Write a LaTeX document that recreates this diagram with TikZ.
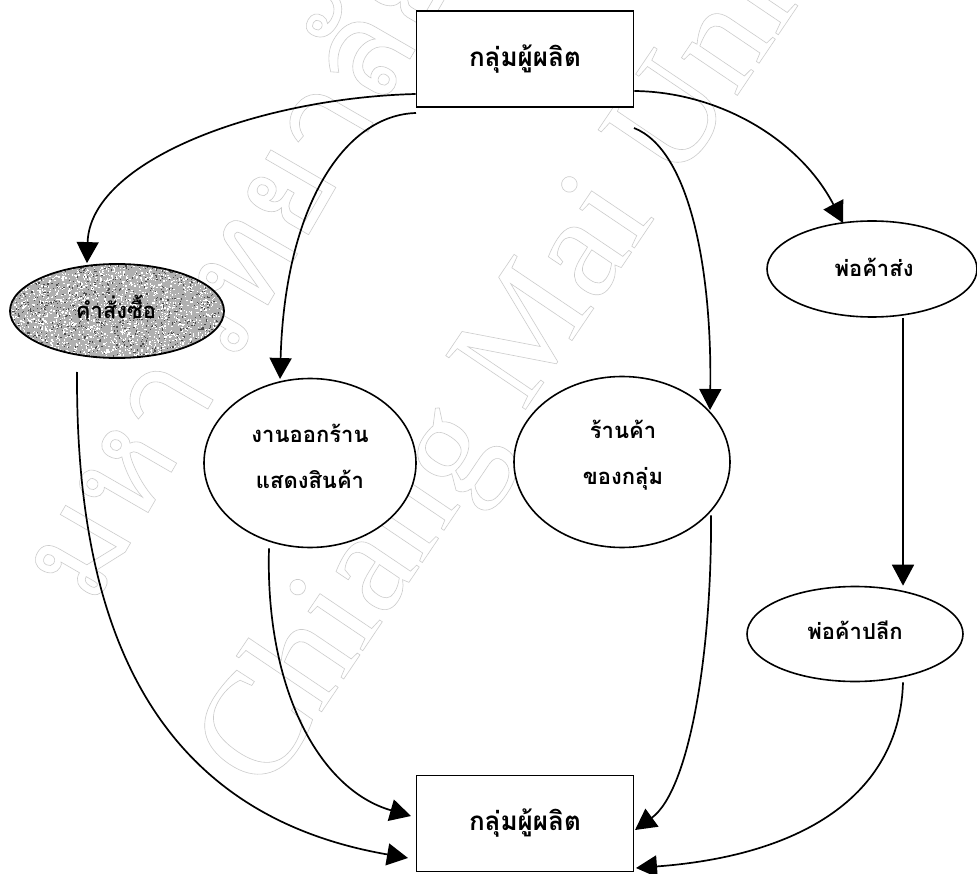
\documentclass[tikz,border=0pt]{standalone}
\usepackage{fontspec}
\usetikzlibrary{shapes.geometric,arrows.meta}
\newfontfamily\thaifont[Script=Thai]{Loma}
\setmainfont{Liberation Serif}
\newcommand{\outlinetext}[1]{\special{pdf:code 1 Tr 0.6 w 0.8 G}#1\special{pdf:code 0 Tr 0 G}}
\tikzset{
  boxnode/.style={draw,line width=1.8pt,fill=white,minimum width=217pt,minimum height=96pt,inner sep=0pt,font=\thaifont\bfseries\fontsize{26}{32}\selectfont},
  oval/.style={ellipse,draw,line width=1.6pt,fill=white,inner sep=0pt,align=center},
  ovaltext/.style={align=center,inner sep=0pt,font=\thaifont\bfseries\fontsize{22}{46}\selectfont},
  flow/.style={line width=1.7pt,-{Triangle[length=21pt,width=22pt]}},
  wmarka/.style={rotate=60,font=\fontsize{135}{135}\selectfont},
  wmarkb/.style={rotate=56,font=\fontsize{147}{147}\selectfont}
}
\begin{document}
\begin{tikzpicture}[x=1pt,y=-1pt]
\useasboundingbox (0,0) rectangle (977,874);
\clip (0,0) rectangle (977,874);
\fill[white] (0,0) rectangle (977,874);
\node[wmarka] (wa) at (356,32) {\thaifont\outlinetext{มหาวิทยาลัยเชียงใหม่}};
\node[wmarkb] (wb) at (615,214) {\outlinetext{Chiang Mai University}};

\node[boxnode] (top) at (525,59) {กลุ่มผู้ผลิต};
\node[boxnode] (bot) at (525,823.5) {กลุ่มผู้ผลิต};
\begin{scope}
\clip (117,311) ellipse [x radius=107,y radius=47];
\fill[gray!62] (9,263) rectangle (225,359);
\pgfmathsetseed{7}
\foreach \i in {1,...,2200}{
  \pgfmathsetmacro{\px}{10+214*rnd}
  \pgfmathsetmacro{\py}{264+94*rnd}
  \fill[white] (\px,\py) rectangle +(1.3,1.3);
}
\foreach \i in {1,...,900}{
  \pgfmathsetmacro{\px}{10+214*rnd}
  \pgfmathsetmacro{\py}{264+94*rnd}
  \fill[black!70] (\px,\py) rectangle +(1.2,1.2);
}
\end{scope}
\node[ellipse,draw,line width=1.8pt,minimum width=214pt,minimum height=94pt,inner sep=0pt] (order) at (117,311) {};
\node[ovaltext] (ordertext) at (116,307) {คำสั่งซื้อ};
\node[oval,minimum width=212pt,minimum height=169pt] (fair) at (310,463) {};
\node[ovaltext] (fairtext) at (310,456) {งานออกร้าน\\แสดงสินค้า};
\node[oval,minimum width=216pt,minimum height=171pt] (shop) at (622,462) {};
\node[ovaltext] (shoptext) at (623,455) {ร้านค้า\\ของกลุ่ม};
\node[oval,minimum width=210pt,minimum height=96pt] (whole) at (872,269) {};
\node[ovaltext] (wholetext) at (874,267) {พ่อค้าส่ง};
\node[oval,minimum width=216pt,minimum height=95pt] (retail) at (855,634) {};
\node[ovaltext] (retailtext) at (855,630) {พ่อค้าปลีก};

\coordinate (a2) at (416,113);
\coordinate (a3) at (634,128);
\coordinate (a6) at (77,372);
\coordinate (b6) at (408,858);
\coordinate (b7) at (411,816);
\coordinate (b8) at (635,830);
\coordinate (b9) at (636,868);

\draw[flow] (top.south west |- 0,94) .. controls (260,98) and (90,160) .. (order.north -| 87,0);
\draw[flow] (a2) .. controls (345,115) and (285,205) .. (280,379);
\draw[flow] (a3) .. controls (690,150) and (712,270) .. (710,410);
\draw[flow] (top.south east |- 0,91) .. controls (720,92) and (800,140) .. (843,223);
\draw[flow] (whole.south -| 903,0) -- (retail.north -| 903,0);
\draw[flow] (a6) .. controls (76,590) and (130,810) .. (b6);
\draw[flow] (fair.south -| 269,0) .. controls (265,690) and (320,790) .. (b7);
\draw[flow] (shop.south -| 711,0) ++(0,-33) .. controls (712,650) and (690,790) .. (b8);
\draw[flow] (retail.south -| 903,0) .. controls (900,790) and (810,855) .. (b9);
\end{tikzpicture}
\end{document}
